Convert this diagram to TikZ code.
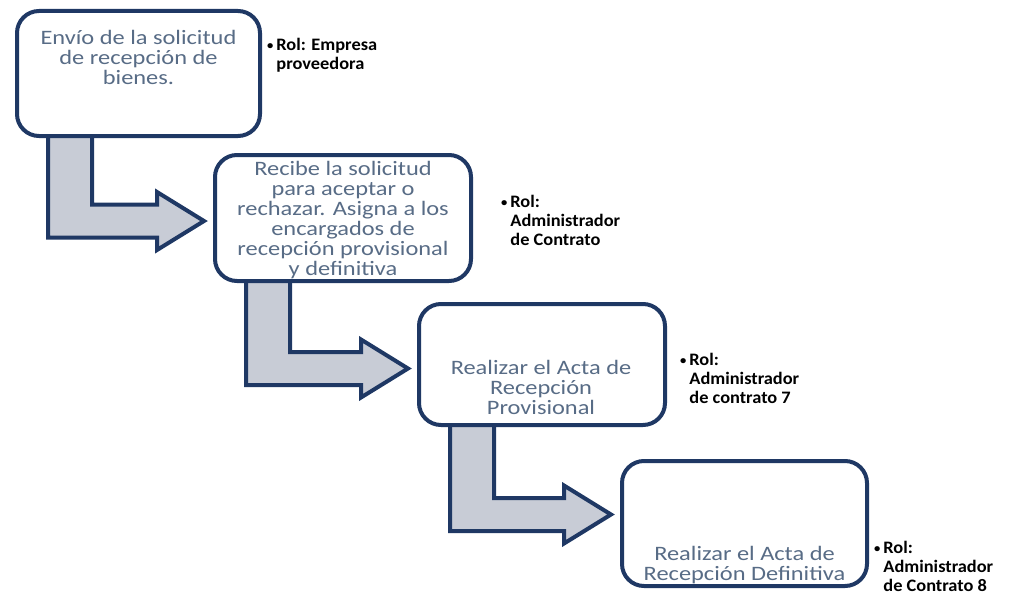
\documentclass[tikz,border=0pt]{standalone}
\usepackage{fontspec}
\setmainfont{Carlito}
\newfontfamily\stepfont{Carlito}[FakeStretch=1.19]
\newfontfamily\rolefont{Carlito}[FakeStretch=1.05]
\usetikzlibrary{backgrounds,calc}

\definecolor{boxline}{RGB}{31,56,100}
\definecolor{boxtext}{RGB}{88,108,134}
\definecolor{arrowfill}{RGB}{200,204,214}

% bent block arrow from the bottom of box #1 to the left side of box #2,
% #3 moves the horizontal part up or down
\newcommand{\bentarrow}[3]{%
  \filldraw[fill=arrowfill, draw=boxline, line width=4pt, line join=miter]
    let \p1=(#1.south west), \p2=($(#2.west)+(0,#3)$) in
    (\x1+33pt,\y1+10pt) -- (\x1+33pt,\y2-16.5pt) -- (\x2-56pt,\y2-16.5pt)
    -- (\x2-56pt,\y2-29pt) -- (\x2-9pt,\y2) -- (\x2-56pt,\y2+29pt)
    -- (\x2-56pt,\y2+16.5pt) -- (\x1+77pt,\y2+16.5pt) -- (\x1+77pt,\y1+10pt) -- cycle;}
% small bullet in front of a role
\newcommand{\rolebullet}{\raisebox{1pt}{\fontsize{12}{12}\selectfont\textbullet}\,}

\begin{document}
\begin{tikzpicture}[x=1pt, y=1pt,
    stepbox/.style={draw=boxline, line width=4pt, rounded corners=22pt,
      fill=white, inner sep=0pt},
    steptext/.style={text=boxtext, font=\stepfont\fontsize{20.5}{20.1}\selectfont,
      align=center, inner sep=0pt},
    role/.style={font=\rolefont\bfseries\fontsize{17.5}{19}\selectfont, align=left,
      anchor=north west, inner sep=0pt}]
  \useasboundingbox (0,0) rectangle (1019,-594);

  % Process boxes
  \node[stepbox, minimum width=243pt, minimum height=125pt] (envio) at (138.5,-73.5) {};
  \node[stepbox, minimum width=256pt, minimum height=126pt] (recibe) at (343,-218) {};
  \node[stepbox, minimum width=246pt, minimum height=121pt] (provisional) at (542,-364.5) {};
  \node[stepbox, minimum width=245pt, minimum height=125pt] (definitiva) at (744.5,-523.5) {};

  % Box texts
  \node[steptext] (envio-txt) at ($(envio.center)+(0,16)$)
    {Envío de la solicitud\\de recepción de\\bienes.};
  \node[steptext] (recibe-txt) at ($(recibe.center)+(0,-2)$)
    {Recibe la solicitud\\para aceptar o\\rechazar. Asigna a los\\encargados de\\recepción provisional\\y definitiva};
  \node[steptext] (provisional-txt) at ($(provisional.center)+(-1,-23)$)
    {Realizar el Acta de\\Recepción\\Provisional};
  \node[steptext] (definitiva-txt) at ($(definitiva.center)+(0,-41.5)$)
    {Realizar el Acta de\\Recepción Definitiva};

  % Roles
  \node[role] (rol-envio) at (267,-38)
    {\rolebullet Rol: Empresa\\\hphantom{\rolebullet}proveedora};
  \node[role] (rol-recibe) at (501,-195)
    {\rolebullet Rol:\\\hphantom{\rolebullet}Administrador\\\hphantom{\rolebullet}de Contrato};
  \node[role] (rol-provisional) at (680,-353)
    {\rolebullet Rol:\\\hphantom{\rolebullet}Administrador\\\hphantom{\rolebullet}de contrato 7};
  \node[role] (rol-definitiva) at (874,-541)
    {\rolebullet Rol:\\\hphantom{\rolebullet}Administrador\\\hphantom{\rolebullet}de Contrato 8};

  % Bent arrows between the steps
  \begin{scope}[on background layer]
    \foreach \a/\b/\dy in {envio/recibe/-3, recibe/provisional/-4, provisional/definitiva/9}
      \bentarrow{\a}{\b}{\dy};
  \end{scope}
\end{tikzpicture}
\end{document}
